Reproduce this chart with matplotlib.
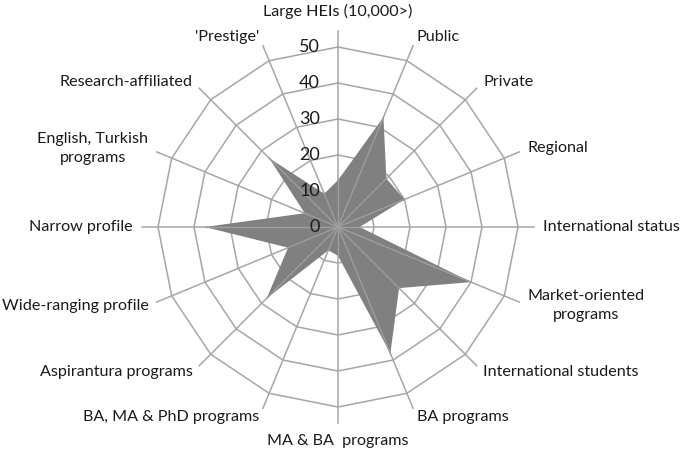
import matplotlib.pyplot as plt
import numpy as np

categories = ["Large HEIs (10,000>)", "Public", "Private", "Regional",
              "International status", "Market-oriented\nprograms",
              "International students", "BA programs", "MA & BA  programs",
              "BA, MA & PhD programs", "Aspirantura programs",
              "Wide-ranging profile", "Narrow profile",
              "English, Turkish\nprograms", "Research-affiliated", "'Prestige'"]
values = [13, 33, 19, 20, 6, 40, 24, 38, 8, 7, 28, 15, 37, 10, 27, 10]
rings = [10, 20, 30, 40, 50]
tick_labels = ["0", "10", "20", "30", "40", "50"]

plt.rcParams['font.family'] = ['Lato', 'DejaVu Sans']

n = len(categories)
ang = np.arange(n) * 2 * np.pi / n  # clockwise from top
sx, sy = np.sin(ang), np.cos(ang)

fig = plt.figure(figsize=(6.85, 4.53), dpi=100)
ax = fig.add_axes([0, 0, 1, 1])
s = 3.6  # px per unit
ax.set_xlim(-338 / s, (685 - 338) / s)
ax.set_ylim(-(453 - 227) / s, 227 / s)
ax.axis('off')

grid_c = '#a6a6a6'
txt_c = '#1a1a1a'
# spokes
for i in range(n):
    ax.plot([0, 54.5 * sx[i]], [0, 54.5 * sy[i]], color=grid_c, lw=1.1, zorder=1)
# rings
for r in rings:
    ax.plot(np.append(r * sx, r * sx[0]), np.append(r * sy, r * sy[0]),
            color=grid_c, lw=1.1, zorder=1)

v = np.array(values)
ax.fill(v * sx, v * sy, color='#808080', zorder=2, lw=0)
# spokes show faintly over the fill
for i in range(n):
    ax.plot([0, v[i] * sx[i]], [0, v[i] * sy[i]], color='#a0a0a0', lw=0.9, zorder=3)

# ring value labels
for k, t in enumerate(tick_labels):
    ax.text(-5, k * 10, t, ha='right', va='center', fontsize=13, color=txt_c, zorder=4)

# category labels
fs = 11.6
for i, lab in enumerate(categories):
    if i == 0:
        ax.text(0, 60, lab, ha='center', va='center', fontsize=fs, color=txt_c)
    elif i == n // 2:
        ax.text(0, -59.5, lab, ha='center', va='center', fontsize=fs, color=txt_c)
    else:
        r = 57
        ha = 'left' if sx[i] > 0 else 'right'
        ax.text(r * sx[i], r * sy[i], lab, ha=ha, va='center', fontsize=fs,
                color=txt_c, multialignment='center', linespacing=1.5)

fig.savefig('out.png', dpi=100)
